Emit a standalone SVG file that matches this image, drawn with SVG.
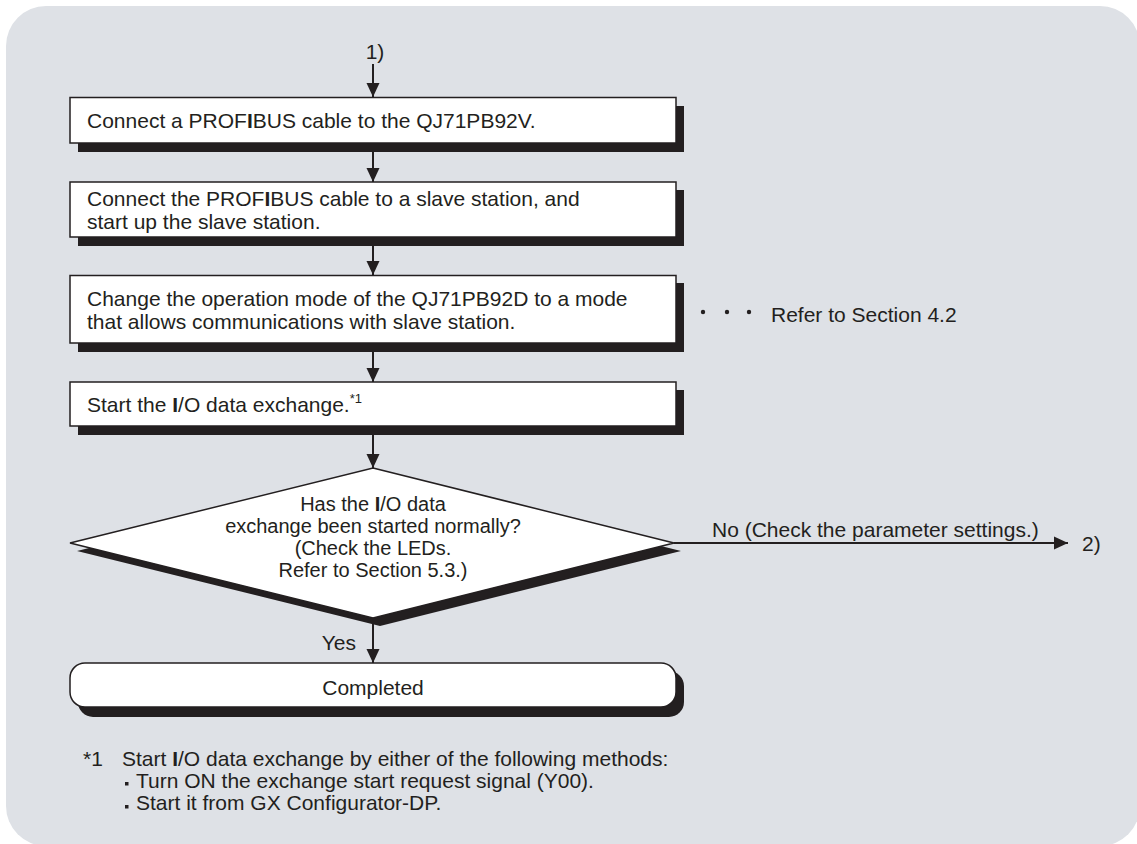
<svg xmlns="http://www.w3.org/2000/svg" width="1137" height="844" viewBox="0 0 1137 844">
<style>
.t{font-family:"Liberation Sans",Arial,sans-serif;font-size:21px;fill:#231f20}
.d{font-size:20px}
.box{fill:#fff;stroke:#231f20;stroke-width:1.5}
.sh{fill:#231f20}
.ln{stroke:#231f20;stroke-width:2;fill:none}
</style>
<defs>
<marker id="ah" markerUnits="userSpaceOnUse" markerWidth="16" markerHeight="16" viewBox="0 0 16 16" refX="15" refY="8" orient="auto">
<path d="M1,1.5 L15,8 L1,14.5 Z" fill="#231f20"/>
</marker>
</defs>
<rect x="6" y="6" width="1134" height="840" rx="40" ry="40" fill="#dee1e6"/>
<g id="connectors">
<line class="ln" x1="373" y1="64" x2="373" y2="97" marker-end="url(#ah)"/>
<line class="ln" x1="373" y1="143" x2="373" y2="182" marker-end="url(#ah)"/>
<line class="ln" x1="373" y1="237" x2="373" y2="275" marker-end="url(#ah)"/>
<line class="ln" x1="373" y1="343" x2="373" y2="382" marker-end="url(#ah)"/>
<line class="ln" x1="373" y1="426" x2="373" y2="468" marker-end="url(#ah)"/>
<line class="ln" x1="373" y1="618" x2="373" y2="663" marker-end="url(#ah)"/>
<line class="ln" x1="674" y1="543" x2="1068" y2="543" marker-end="url(#ah)"/>
<text class="t" x="375" y="59" text-anchor="middle">1)</text>
<text class="t" x="712" y="537">No (Check the parameter settings.)</text>
<text class="t" x="1082" y="551">2)</text>
<text class="t" x="356" y="650" text-anchor="end">Yes</text>
</g>
<g id="box1">
<rect class="sh" x="78" y="106" width="606" height="46"/>
<rect class="box" x="70" y="97.5" width="606" height="45.5"/>
<text class="t" x="87" y="128">Connect a PROF<tspan font-weight="bold">I</tspan>BUS cable to the QJ71PB92V.</text>
</g>
<g id="box2">
<rect class="sh" x="78" y="190" width="606" height="56"/>
<rect class="box" x="70" y="182" width="606" height="55"/>
<text class="t" x="87" y="206">Connect the PROF<tspan font-weight="bold">I</tspan>BUS cable to a slave station, and</text>
<text class="t" x="87" y="229">start up the slave station.</text>
</g>
<g id="box3">
<rect class="sh" x="78" y="283" width="606" height="69"/>
<rect class="box" x="70" y="275.5" width="606" height="67.5"/>
<text class="t" x="87" y="306">Change the operation mode of the QJ71PB92D to a mode</text>
<text class="t" x="87" y="329">that allows communications with slave station.</text>
</g>
<g id="note42">
<circle cx="703" cy="312" r="2.2" fill="#231f20"/>
<circle cx="727" cy="312" r="2.2" fill="#231f20"/>
<circle cx="749" cy="312" r="2.2" fill="#231f20"/>
<text class="t" x="771" y="322">Refer to Section 4.2</text>
</g>
<g id="box4">
<rect class="sh" x="78" y="390" width="606" height="45"/>
<rect class="box" x="70" y="382" width="606" height="44"/>
<text class="t" x="87" y="412">Start the <tspan font-weight="bold">I</tspan>/O data exchange.<tspan font-size="13" dy="-9">*1</tspan></text>
</g>
<g id="decision">
<polygon class="sh" points="380,476 681,551 380,626 77,551"/>
<polygon class="box" points="373,468 674,543 373,618 70,543"/>
<text class="t d" x="373" y="511" text-anchor="middle">Has the <tspan font-weight="bold">I</tspan>/O data</text>
<text class="t d" x="373" y="533" text-anchor="middle">exchange been started normally?</text>
<text class="t d" x="373" y="555" text-anchor="middle">(Check the LEDs.</text>
<text class="t d" x="373" y="577" text-anchor="middle">Refer to Section 5.3.)</text>
</g>
<g id="completed">
<rect class="sh" x="78" y="671" width="606" height="46" rx="15" ry="15"/>
<rect class="box" x="70" y="663" width="606" height="44" rx="15" ry="15"/>
<text class="t" x="373" y="695" text-anchor="middle">Completed</text>
</g>
<g id="footnote">
<text class="t" x="83" y="766">*1</text>
<text class="t" x="122" y="766">Start <tspan font-weight="bold">I</tspan>/O data exchange by either of the following methods:</text>
<rect x="125" y="782" width="3.5" height="3.5" fill="#231f20"/>
<text class="t" x="136" y="788">Turn ON the exchange start request signal (Y00).</text>
<rect x="125" y="805" width="3.5" height="3.5" fill="#231f20"/>
<text class="t" x="136" y="810">Start it from GX Configurator-DP.</text>
</g>
</svg>
